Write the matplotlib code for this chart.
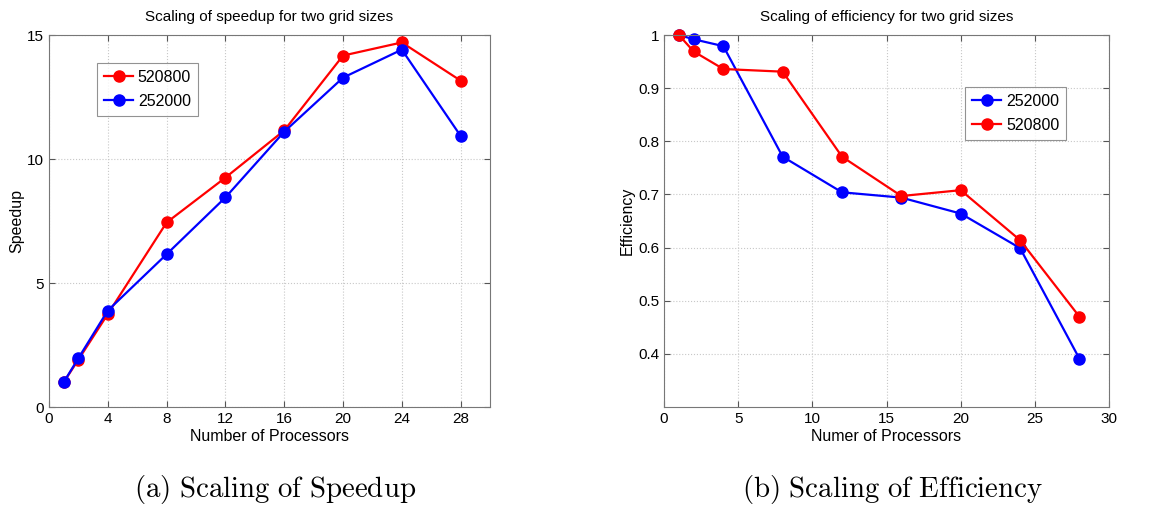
import matplotlib
matplotlib.use('Agg')
import matplotlib.pyplot as plt

plt.rcParams['font.family'] = ['Liberation Sans', 'DejaVu Sans']
plt.rcParams['mathtext.fontset'] = 'cm'

# Data
procs = [1, 2, 4, 8, 12, 16, 20, 24, 28]
speedup_520800 = [1.0, 1.91, 3.75, 7.44, 9.25, 11.15, 14.17, 14.70, 13.16]
speedup_252000 = [1.0, 1.97, 3.89, 6.16, 8.45, 11.10, 13.28, 14.41, 10.93]
eff_252000 = [1.0, 0.992, 0.979, 0.771, 0.704, 0.694, 0.664, 0.599, 0.391]
eff_520800 = [1.0, 0.969, 0.936, 0.931, 0.771, 0.697, 0.708, 0.614, 0.470]

speed_xticks = [0, 4, 8, 12, 16, 20, 24, 28]
speed_yticks = [0, 5, 10, 15]
eff_xticks = [0, 5, 10, 15, 20, 25, 30]
eff_yticks = [0.4, 0.5, 0.6, 0.7, 0.8, 0.9, 1.0]
eff_yticklabels = ['0.4', '0.5', '0.6', '0.7', '0.8', '0.9', '1']

fig = plt.figure(figsize=(11.56, 5.08), dpi=100)

ax1 = fig.add_axes([0.0424, 0.1988, 0.3815, 0.7323])
ax2 = fig.add_axes([0.5744, 0.1988, 0.385, 0.7323])

line_kw = dict(marker='o', markersize=8, linewidth=1.6, clip_on=False)


def matlab_style(ax):
    ax.grid(True, linestyle=':', color='#c8c8c8', linewidth=0.8)
    ax.set_axisbelow(True)
    ax.tick_params(direction='in', top=True, right=True, labelsize=11,
                   length=4, color='#555555')
    for sp in ax.spines.values():
        sp.set_color('#777777')
        sp.set_linewidth(0.8)


leg_kw = dict(loc='upper left', fontsize=11.5, fancybox=False,
              edgecolor='#777777', handlelength=1.8, borderpad=0.45,
              labelspacing=0.55, handletextpad=0.3, borderaxespad=0)

# Left panel: speedup
ax1.plot(procs, speedup_520800, color='#ff0000', label='520800', **line_kw)
ax1.plot(procs, speedup_252000, color='#0000ff', label='252000', **line_kw)
ax1.set_xlim(0, 30)
ax1.set_ylim(0, 15)
ax1.set_xticks(speed_xticks)
ax1.set_yticks(speed_yticks)
matlab_style(ax1)
ax1.set_xlabel('Number of Processors', fontsize=11.5, labelpad=2)
ax1.set_ylabel('Speedup', fontsize=11.5, labelpad=2)
ax1.set_title('Scaling of speedup for two grid sizes', fontsize=11, pad=10)
leg1 = ax1.legend(bbox_to_anchor=(0.109, 0.925), **leg_kw)
leg1.get_frame().set_linewidth(0.8)

# Right panel: efficiency
ax2.plot(procs, eff_252000, color='#0000ff', label='252000', **line_kw)
ax2.plot(procs, eff_520800, color='#ff0000', label='520800', **line_kw)
ax2.set_xlim(0, 30)
ax2.set_ylim(0.3, 1.0)
ax2.set_xticks(eff_xticks)
ax2.set_yticks(eff_yticks)
ax2.set_yticklabels(eff_yticklabels)
matlab_style(ax2)
ax2.set_xlabel('Numer of Processors', fontsize=11.5, labelpad=2)
ax2.set_ylabel('Efficiency', fontsize=11.5, labelpad=2)
ax2.set_title('Scaling of efficiency for two grid sizes', fontsize=11, pad=10)
leg2 = ax2.legend(bbox_to_anchor=(0.677, 0.861), **leg_kw)
leg2.get_frame().set_linewidth(0.8)

# Sub-captions
fig.text(275 / 1156, 1 - 489 / 508, r'$\mathrm{(a)\ Scaling\ of\ Speedup}$',
         ha='center', va='center', fontsize=20.8)
fig.text(893 / 1156, 1 - 489 / 508, r'$\mathrm{(b)\ Scaling\ of\ Efficiency}$',
         ha='center', va='center', fontsize=20.8)

fig.savefig('out.png', dpi=100)
